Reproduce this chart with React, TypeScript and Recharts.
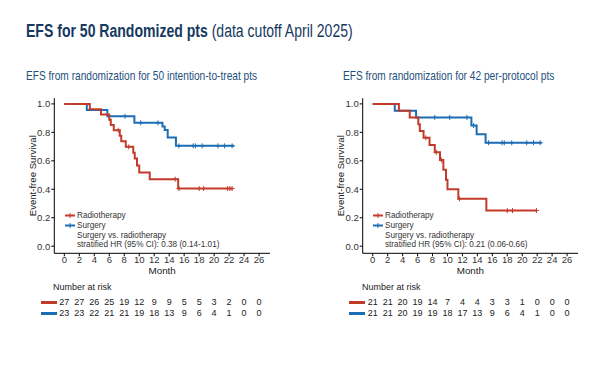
import React from 'react'
import { ComposedChart, Line, Scatter, XAxis, YAxis } from 'recharts'

// colours
const RED = '#c23b2a'
const BLUE = '#1d6db5'
const NAVY = '#16395f'

const months = [0, 2, 4, 6, 8, 10, 12, 14, 16, 18, 20, 22, 24, 26]
const survTicks = [0, 0.2, 0.4, 0.6, 0.8, 1.0]

// ITT (50 pts)
const ittRadioTimes = [0, 3.4, 4.9, 6.0, 6.2, 6.6, 7.4, 7.6, 8.2, 9.2, 9.4, 9.7, 10.0, 11.4, 15.2, 22.5]
const ittRadioSurv = [1, 0.963, 0.926, 0.889, 0.852, 0.815, 0.776, 0.737, 0.698, 0.657, 0.616, 0.567, 0.518, 0.471, 0.405, 0.405]
const ittRadioCensor = [7.2, 8.6, 14.8, 15.3, 18.0, 18.6, 21.8, 22.1, 22.4]
const ittSurgTimes = [0, 3.0, 5.74, 9.35, 13.1, 13.4, 13.8, 14.9, 22.7]
const ittSurgSurv = [1, 0.957, 0.913, 0.867, 0.841, 0.817, 0.764, 0.705, 0.705]
const ittSurgCensor = [8.1, 10.2, 12.5, 15.3, 17.2, 17.5, 18.4, 20.5, 21.4, 22.4]
const ittRiskRadio = [27, 27, 26, 25, 19, 12, 9, 9, 5, 5, 3, 2, 0, 0]
const ittRiskSurg = [23, 23, 22, 21, 21, 19, 18, 13, 9, 6, 4, 1, 0, 0]

// per-protocol (42 pts)
const ppRadioTimes = [0, 3.5, 4.95, 6.1, 6.3, 6.8, 7.6, 8.3, 9.0, 9.45, 9.8, 10.0, 11.45, 15.2, 21.9]
const ppRadioSurv = [1, 0.952, 0.905, 0.857, 0.81, 0.762, 0.711, 0.66, 0.605, 0.537, 0.467, 0.4, 0.333, 0.25, 0.25]
const ppRadioCensor = [7.1, 8.5, 9.2, 11.6, 18.0, 18.7, 21.9]
const ppSurgTimes = [0, 2.95, 5.8, 13.2, 13.9, 15.1, 22.6]
const ppSurgSurv = [1, 0.952, 0.905, 0.848, 0.787, 0.727, 0.727]
const ppSurgCensor = [8.3, 10.3, 12.6, 13.5, 15.5, 17.3, 17.6, 18.6, 20.6, 21.5, 22.4]
const ppRiskRadio = [21, 21, 20, 19, 14, 7, 4, 4, 3, 3, 1, 0, 0, 0]
const ppRiskSurg = [21, 21, 20, 19, 19, 18, 17, 13, 9, 6, 4, 1, 0, 0]

const toCurve = (times: number[], surv: number[]) => times.map((t, i) => ({ t, s: surv[i] }))
const survAt = (times: number[], surv: number[], t: number) => {
  let v = surv[0]
  times.forEach((tt, i) => { if (tt <= t) v = surv[i] })
  return v
}
const toCensor = (cens: number[], times: number[], surv: number[]) => cens.map(t => ({ t, s: survAt(times, surv, t) }))

const Plus = (color: string) => (props: any) => {
  const { cx, cy } = props
  return (
    <g>
      <line x1={cx - 2.5} x2={cx + 2.5} y1={cy} y2={cy} stroke={color} strokeWidth={1} />
      <line x1={cx} x2={cx} y1={cy - 2.5} y2={cy + 2.5} stroke={color} strokeWidth={1} />
    </g>
  )
}

const FONT = '"Liberation Sans", Arial, sans-serif'

interface PanelProps {
  left: number
  marginLeft: number
  marginRight: number
  radio: { times: number[]; surv: number[]; censor: number[]; risk: number[] }
  surg: { times: number[]; surv: number[]; censor: number[]; risk: number[] }
  hr: string
  legendX: number
  riskX: number
  markerX: number
}

function KMPanel({ left, marginLeft, marginRight, radio, surg, hr, legendX, riskX, markerX }: PanelProps) {
  const riskFmt = (arr: number[]) => (v: number) => String(arr[months.indexOf(v)] ?? '')
  const tickStyle = { fontSize: 9.5, fill: '#333', fontFamily: FONT }
  return (
    <div style={{ position: 'absolute', left, top: 0, width: 300, height: 365 }}>
      <ComposedChart width={300} height={365} margin={{ top: 98.2, right: marginRight, bottom: 43.2, left: marginLeft }}>
        <XAxis xAxisId="a_main" dataKey="t" type="number" domain={[-1.34, 27.46]} ticks={months} allowDataOverflow
          tick={tickStyle} tickSize={3} tickMargin={0} height={45.5} stroke="#000"
          label={{ value: 'Month', position: 'insideTop', offset: 14, fontSize: 9.8, fill: '#222', fontFamily: FONT }} />
        <XAxis xAxisId="b_red" dataKey="t" type="number" domain={[-1.34, 27.46]} ticks={months} allowDataOverflow
          axisLine={false} tickLine={false} tickSize={0} tickMargin={0} height={11}
          tick={{ fontSize: 9, fill: '#222', fontFamily: FONT }} tickFormatter={riskFmt(radio.risk)} interval={0} />
        <XAxis xAxisId="c_blue" dataKey="t" type="number" domain={[-1.34, 27.46]} ticks={months} allowDataOverflow
          axisLine={false} tickLine={false} tickSize={0} tickMargin={0} height={12}
          tick={{ fontSize: 9, fill: '#222', fontFamily: FONT }} tickFormatter={riskFmt(surg.risk)} interval={0} />
        <YAxis type="number" domain={[-0.05, 1.04]} ticks={survTicks} allowDataOverflow width={44}
          tick={tickStyle} tickSize={3} tickMargin={1} stroke="#000" tickFormatter={(v: number) => v.toFixed(1)}
          label={{ value: 'Event-free Survival', angle: -90, position: 'center', fontSize: 9.6, fill: '#222', fontFamily: FONT }} />
        <Line xAxisId="a_main" data={toCurve(surg.times, surg.surv)} dataKey="s" type="stepAfter" stroke={BLUE} strokeWidth={2} dot={false} isAnimationActive={false} />
        <Line xAxisId="a_main" data={toCurve(radio.times, radio.surv)} dataKey="s" type="stepAfter" stroke={RED} strokeWidth={2} dot={false} isAnimationActive={false} />
        <Scatter xAxisId="a_main" data={toCensor(surg.censor, surg.times, surg.surv)} dataKey="s" shape={Plus(BLUE)} isAnimationActive={false} />
        <Scatter xAxisId="a_main" data={toCensor(radio.censor, radio.times, radio.surv)} dataKey="s" shape={Plus(RED)} isAnimationActive={false} />
      </ComposedChart>
      <div style={{ position: 'absolute', left: legendX, top: 211, fontFamily: FONT, fontSize: 8.2, color: '#333', lineHeight: '9.8px', whiteSpace: 'nowrap' }}>
        {[['Radiotherapy', RED], ['Surgery', BLUE]].map(([name, c]) => (
          <div key={name} style={{ display: 'flex', alignItems: 'center', height: 9.8 }}>
            <svg width={12} height={9} style={{ marginRight: 0 }}>
              <line x1={0} x2={10} y1={4.5} y2={4.5} stroke={c} strokeWidth={2} />
              <line x1={5} x2={5} y1={2} y2={7} stroke={c} strokeWidth={1} />
            </svg>
            <span>{name}</span>
          </div>
        ))}
        <div style={{ paddingLeft: 12 }}>Surgery vs. radiotherapy</div>
        <div style={{ paddingLeft: 12 }}>stratified HR (95% CI): {hr}</div>
      </div>
      <div style={{ position: 'absolute', left: riskX, top: 281.5, fontFamily: FONT, fontSize: 9, color: '#222' }}>Number at risk</div>
      <div style={{ position: 'absolute', left: markerX, top: 300.5, width: 16, height: 3, background: RED }} />
      <div style={{ position: 'absolute', left: markerX, top: 311.5, width: 16, height: 3, background: BLUE }} />
    </div>
  )
}

const condensed = { transform: 'scaleX(0.78)', transformOrigin: 'left center' }

export default function App() {
  return (
    <div style={{ position: 'absolute', left: 0, top: 0, width: 600, height: 365, background: '#fff', overflow: 'hidden' }}>
      <div style={{ position: 'absolute', left: 26, top: 21, fontFamily: FONT, fontSize: 18, color: NAVY, whiteSpace: 'nowrap', ...condensed }}>
        <b>EFS for 50 Randomized pts</b> (data cutoff April 2025)
      </div>
      <div style={{ position: 'absolute', left: 26, top: 68, fontFamily: FONT, fontSize: 13, color: '#24507e', whiteSpace: 'nowrap', ...condensed }}>
        EFS from randomization for 50 intention-to-treat pts
      </div>
      <div style={{ position: 'absolute', left: 343, top: 68, fontFamily: FONT, fontSize: 13, color: '#24507e', whiteSpace: 'nowrap', ...condensed }}>
        EFS from randomization for 42 per-protocol pts
      </div>
      <KMPanel left={0} marginLeft={10.3} marginRight={30} hr="0.38 (0.14-1.01)" legendX={65} riskX={53} markerX={41}
        radio={{ times: ittRadioTimes, surv: ittRadioSurv, censor: ittRadioCensor, risk: ittRiskRadio }}
        surg={{ times: ittSurgTimes, surv: ittSurgSurv, censor: ittSurgCensor, risk: ittRiskSurg }} />
      <KMPanel left={300} marginLeft={18.7} marginRight={22} hr="0.21 (0.06-0.66)" legendX={73} riskX={62} markerX={49}
        radio={{ times: ppRadioTimes, surv: ppRadioSurv, censor: ppRadioCensor, risk: ppRiskRadio }}
        surg={{ times: ppSurgTimes, surv: ppSurgSurv, censor: ppSurgCensor, risk: ppRiskSurg }} />
    </div>
  )
}
